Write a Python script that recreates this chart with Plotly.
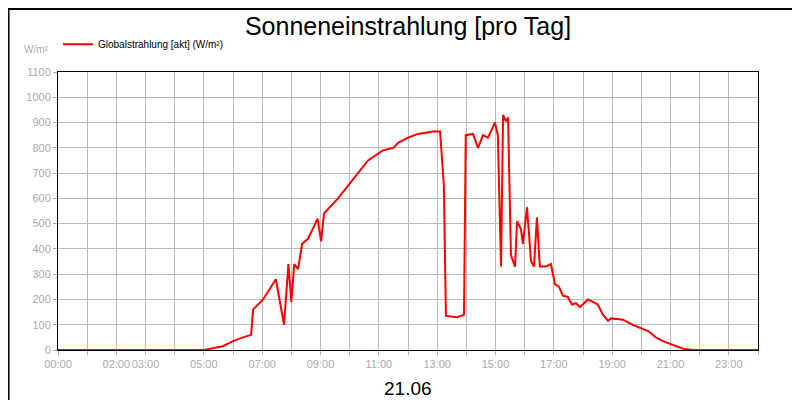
import plotly.graph_objects as go

hours = [0, 5.0, 5.65, 6.0, 6.34, 6.5, 6.62, 6.69, 7.03, 7.47, 7.6, 7.75, 7.9, 8.0, 8.1, 8.23, 8.37, 8.57, 8.74, 8.9, 9.02,
         9.12, 9.6, 9.94, 10.3, 10.63, 11.14, 11.5, 11.66, 12.0, 12.34, 12.86, 13.1, 13.23, 13.3, 13.7, 13.92, 13.98,
         14.23, 14.4, 14.57, 14.74, 14.98, 15.08, 15.19, 15.26, 15.36, 15.43, 15.53, 15.67, 15.74, 15.87, 15.94, 16.08,
         16.22, 16.32, 16.42, 16.52, 16.73, 16.9, 17.04, 17.18, 17.31, 17.48, 17.62, 17.76, 17.9, 18.17, 18.51, 18.68,
         18.86, 18.96, 19.37, 19.7, 20.23, 20.5, 20.74, 21.08, 21.43, 21.77, 24]
values = [0, 0, 15, 35, 50, 55, 60, 160, 200, 280, 200, 100, 340, 190, 340, 320, 420, 440, 480, 520, 430,
          540, 600, 650, 700, 750, 790, 800, 820, 840, 855, 865, 865, 650, 135, 130, 140, 850,
          855, 800, 850, 840, 900, 850, 330, 930, 905, 920, 375, 330, 510, 480, 420, 565,
          350, 330, 525, 330, 330, 340, 260, 250, 215, 210, 180, 185, 170, 200, 180, 140,
          115, 125, 120, 100, 75, 50, 35, 20, 5, 0, 0]
tick_hours = [0, 2, 3, 5, 7, 9, 11, 13, 15, 17, 19, 21, 23]
tick_labels = ["00:00", "02:00", "03:00", "05:00", "07:00", "09:00", "11:00", "13:00", "15:00", "17:00", "19:00", "21:00", "23:00"]

fig = go.Figure()
fig.add_trace(go.Scatter(x=hours, y=values, mode="lines", line=dict(color="#ff0000", width=2),
                         name="Globalstrahlung [akt] (W/m²)"))
fig.update_layout(
    width=800, height=400, autosize=False, plot_bgcolor="white", paper_bgcolor="white",
    margin=dict(l=50, r=50, t=64, b=58, autoexpand=False),
    font=dict(family="Liberation Sans, Arial", color="#aaaaaa", size=11),
    title=dict(text="Sonneneinstrahlung [pro Tag]", x=0.5, xanchor="center", y=0.955, yanchor="middle",
               font=dict(size=25, color="black")),
    showlegend=True,
    legend=dict(x=0.0, y=1.1, xanchor="left", yanchor="middle", orientation="h",
                font=dict(size=10, color="black"), bgcolor="rgba(0,0,0,0)"),
    xaxis=dict(range=[0, 24], tickvals=tick_hours, ticktext=tick_labels, tickangle=0, automargin=False,
               showgrid=False, minor=dict(dtick=1, tick0=0, showgrid=True, gridcolor="#bbbbbb", ticks="outside",
                                          ticklen=4, tickcolor="#aaaaaa"),
               showline=True, linecolor="black", mirror=True, ticks="outside", ticklen=4, tickcolor="#aaaaaa",
               zeroline=False),
    yaxis=dict(range=[0, 1100], dtick=100, showgrid=True, gridcolor="#bbbbbb", showline=True, automargin=False,
               linecolor="black", mirror=True, ticks="outside", ticklen=4, tickcolor="#aaaaaa", zeroline=False),
    shapes=[dict(type="rect", xref="paper", yref="paper", x0=-0.0707, x1=1.0693, y0=-0.205, y1=1.227,
                 line=dict(color="black", width=2))],
    annotations=[
        dict(text="21.06", xref="paper", yref="paper", x=0.5, y=-0.14, showarrow=False,
             font=dict(size=19, color="black"), yanchor="middle"),
        dict(text="W/m²", xref="paper", yref="paper", x=-0.01, y=1.08, showarrow=False,
             xanchor="right", yanchor="middle", font=dict(size=10, color="#aaaaaa")),
    ],
)
fig.write_html("out.html")
